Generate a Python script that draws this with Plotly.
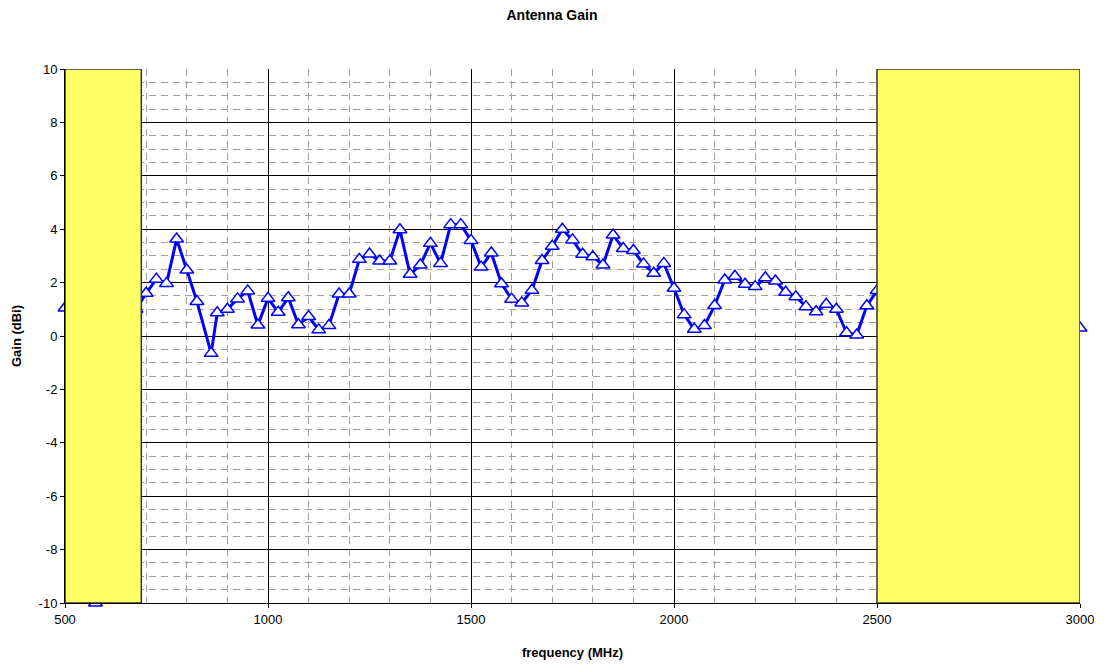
import plotly.graph_objects as go

# Measured antenna gain (MHz, dBi)
freq_mhz = [500, 550, 575, 600, 650, 675,
            700, 725, 750, 775, 800, 825, 860, 875, 900, 925, 950, 975,
            1000, 1025, 1050, 1075, 1100, 1125, 1150, 1175, 1200, 1225, 1250, 1275,
            1300, 1325, 1350, 1375, 1400, 1425, 1450, 1475, 1500, 1525, 1550, 1575,
            1600, 1625, 1650, 1675, 1700, 1725, 1750, 1775, 1800, 1825, 1850, 1875,
            1900, 1925, 1950, 1975, 2000, 2025, 2050, 2075, 2100, 2125, 2150, 2175,
            2200, 2225, 2250, 2275, 2300, 2325, 2350, 2375, 2400, 2425, 2450, 2475,
            2500, 2750, 3000]
gain_dbi = [1.05, -6.0, -10.0, -10.4, -2.0, 1.0,
            1.6, 2.13, 1.97, 3.63, 2.47, 1.29, -0.65, 0.87, 1.0, 1.39, 1.69, 0.41,
            1.41, 0.89, 1.43, 0.42, 0.73, 0.23, 0.39, 1.57, 1.57, 2.87, 3.07, 2.81,
            2.81, 3.98, 2.31, 2.66, 3.47, 2.72, 4.17, 4.17, 3.58, 2.58, 3.11, 1.96,
            1.38, 1.24, 1.71, 2.83, 3.36, 4.0, 3.6, 3.06, 2.97, 2.66, 3.78, 3.28,
            3.2, 2.7, 2.35, 2.72, 1.79, 0.8, 0.25, 0.39, 1.14, 2.1, 2.24, 1.94,
            1.85, 2.18, 2.06, 1.64, 1.47, 1.1, 0.91, 1.19, 1.0, 0.12, 0.04, 1.13,
            1.7, 1.0, 0.3]

# Out-of-band regions (yellow blocks)
band_start = [500, 2500]
band_end = [688, 3000]

x_ticks = [500, 1000, 1500, 2000, 2500, 3000]
y_ticks = [-10, -8, -6, -4, -2, 0, 2, 4, 6, 8, 10]

font_family = "Liberation Sans, Arial, sans-serif"

fig = go.Figure()
fig.add_trace(go.Scatter(
    x=freq_mhz, y=gain_dbi, mode="lines+markers",
    line=dict(color="#0000FF", width=3),
    marker=dict(symbol="triangle-up", size=12, color="white",
                line=dict(color="#0000FF", width=1.5)),
    cliponaxis=False, showlegend=False,
))

for x0, x1 in zip(band_start, band_end):
    fig.add_shape(type="rect", xref="x", yref="y", x0=x0, x1=x1, y0=-10, y1=10,
                  fillcolor="#FFFF66", line=dict(color="#333333", width=1.5),
                  layer="above")

fig.update_layout(
    width=1104, height=664,
    margin=dict(l=65, r=24, t=69, b=61, autoexpand=False),
    paper_bgcolor="white", plot_bgcolor="white",
    font=dict(family=font_family, size=13, color="black"),
    title=dict(text="<b>Antenna Gain</b>", x=0.5, xanchor="center",
               y=0.977, yanchor="middle", font=dict(size=14)),
)
fig.update_xaxes(
    range=[500, 3000], tickvals=x_ticks, ticktext=[str(v) for v in x_ticks],
    showgrid=True, gridcolor="#000000", gridwidth=1,
    minor=dict(dtick=100, tick0=500, showgrid=True, gridcolor="#A0A0A0",
               griddash="7px,5px", gridwidth=1, ticks=""),
    showline=True, linecolor="#000000", linewidth=1, mirror=False,
    ticks="outside", ticklen=4, tickcolor="#000000",
    zeroline=False, automargin=False,
    title=dict(text="<b>frequency (MHz)</b>", font=dict(size=13), standoff=22),
)
fig.update_yaxes(
    range=[-10, 10], tickvals=y_ticks, ticktext=[str(v) for v in y_ticks],
    showgrid=True, gridcolor="#000000", gridwidth=1,
    minor=dict(dtick=0.5, tick0=0, showgrid=True, gridcolor="#A0A0A0",
               griddash="7px,5px", gridwidth=1, ticks=""),
    showline=True, linecolor="#000000", linewidth=1,
    ticks="outside", ticklen=4, tickcolor="#000000",
    zeroline=False, automargin=False,
    title=dict(text="<b>Gain (dBi)</b>", font=dict(size=13), standoff=14),
)

fig.write_html("out.html", config={"displayModeBar": False},
               post_script="document.body.style.margin='0';")
